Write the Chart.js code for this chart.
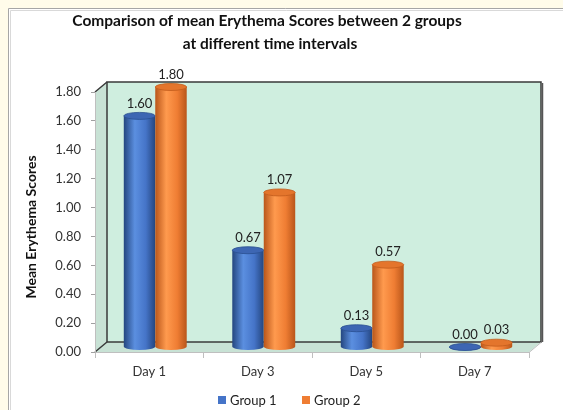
<!DOCTYPE html>
<html><head><meta charset="utf-8">
<script src="https://cdn.jsdelivr.net/npm/chart.js@4/dist/chart.umd.min.js"></script>
<style>html,body{margin:0;padding:0;background:#fffcea;overflow:hidden}canvas{display:block}</style>
</head><body><canvas id="c" width="563" height="410"></canvas>
<script>
const categories = ['Day 1', 'Day 3', 'Day 5', 'Day 7'];
const group1 = [1.60, 0.67, 0.13, 0.00];
const group2 = [1.80, 1.07, 0.57, 0.03];
const seriesNames = ['Group 1', 'Group 2'];
const titleLines = ['Comparison of mean Erythema Scores between 2 groups', 'at different time intervals'];
const yTitle = 'Mean Erythema Scores';
const yMin = 0, yMax = 1.8, yStep = 0.2;

const FONT = 'Lato, "Open Sans", sans-serif';
const DX = 12, DY = -10;
const palette = [
  {d:'#24467f', l:'#5b8fe0', m:'#4574c8', cap:'#3d66b3', rim:'#2a4f90'},
  {d:'#b9561a', l:'#ff9a4e', m:'#ef7d33', cap:'#e4752c', rim:'#c25c1c'}
];

function cyl(ctx, cx, top, bottom, w, c){
  const rx = w/2, ry = 3.5, x0 = cx - rx;
  const g = ctx.createLinearGradient(x0, 0, x0 + w, 0);
  g.addColorStop(0, c.d); g.addColorStop(0.35, c.l); g.addColorStop(0.7, c.m); g.addColorStop(1, c.d);
  ctx.beginPath();
  ctx.moveTo(x0, top);
  ctx.lineTo(x0, bottom);
  ctx.ellipse(cx, bottom, rx, ry, 0, Math.PI, 0, true);
  ctx.lineTo(x0 + w, top);
  ctx.closePath();
  ctx.fillStyle = g; ctx.fill();
  ctx.beginPath(); ctx.ellipse(cx, top, rx, ry, 0, 0, 2*Math.PI);
  ctx.fillStyle = c.cap; ctx.fill();
  ctx.lineWidth = 0.8; ctx.strokeStyle = c.rim; ctx.stroke();
}

const scene = {
  id: 'scene',
  beforeDraw(chart){
    const ctx = chart.ctx;
    ctx.save();
    ctx.fillStyle = '#fffcea'; ctx.fillRect(0, 0, 563, 410);
    ctx.fillStyle = '#ffffff'; ctx.fillRect(8, 8, 555, 402);
    ctx.strokeStyle = '#a6a6a6'; ctx.lineWidth = 1;
    ctx.beginPath(); ctx.moveTo(8.5, 410); ctx.lineTo(8.5, 8.5); ctx.lineTo(563, 8.5); ctx.stroke();
    ctx.strokeStyle = '#d9d9d9';
    ctx.beginPath(); ctx.moveTo(10.5, 410); ctx.lineTo(10.5, 10.5); ctx.lineTo(563, 10.5); ctx.stroke();
    // title
    ctx.fillStyle = '#111'; ctx.textAlign = 'center'; ctx.textBaseline = 'middle';
    ctx.font = 'bold 15.5px ' + FONT;
    ctx.fillText(titleLines[0], 267, 21);
    ctx.fillText(titleLines[1], 270, 44);
    // y title
    ctx.save(); ctx.translate(31, 227); ctx.rotate(-Math.PI/2);
    ctx.font = 'bold 14px ' + FONT; ctx.fillText(yTitle, 0, 0); ctx.restore();
    ctx.restore();
  },
  beforeDatasetsDraw(chart){
    const ctx = chart.ctx, a = chart.chartArea;
    const L = a.left, R = a.right, T = a.top, B = a.bottom;
    ctx.save();
    ctx.fillStyle = '#c8e2d5';
    ctx.beginPath(); ctx.moveTo(L, T); ctx.lineTo(L+DX, T+DY); ctx.lineTo(L+DX, B+DY); ctx.lineTo(L, B); ctx.closePath(); ctx.fill();
    ctx.beginPath(); ctx.moveTo(L, B); ctx.lineTo(L+DX, B+DY); ctx.lineTo(R+DX, B+DY); ctx.lineTo(R, B); ctx.closePath(); ctx.fill();
    ctx.fillStyle = '#cfeedf';
    ctx.fillRect(L+DX, T+DY, R-L, B-T);
    ctx.strokeStyle = '#3a3a3a'; ctx.lineWidth = 1.5;
    ctx.strokeRect(L+DX, T+DY, R-L, B-T);
    ctx.beginPath(); ctx.moveTo(L, T); ctx.lineTo(L+DX, T+DY); ctx.moveTo(L, B); ctx.lineTo(L+DX, B+DY); ctx.stroke();
    ctx.strokeStyle = '#555'; ctx.lineWidth = 1.5;
    ctx.beginPath(); ctx.moveTo(R+DX+1.5, T+DY+1); ctx.lineTo(R+DX+1.5, B+DY); ctx.stroke();
    ctx.strokeStyle = '#bfbfbf'; ctx.lineWidth = 1;
    ctx.beginPath(); ctx.moveTo(L+0.5, T); ctx.lineTo(L+0.5, B+0.5); ctx.lineTo(R, B+0.5); ctx.lineTo(R+DX, B+DY+0.5); ctx.stroke();
    ctx.restore();
  },
  afterDatasetsDraw(chart){
    const ctx = chart.ctx;
    ctx.save();
    const n = chart.data.labels.length;
    for (let i = 0; i < n; i++){
      chart.data.datasets.forEach((ds, di) => {
        const el = chart.getDatasetMeta(di).data[i];
        cyl(ctx, el.x + DX/2, el.y + DY/2, el.base + DY/2, el.width, palette[di]);
      });
    }
    ctx.font = '13px ' + FONT; ctx.fillStyle = '#222'; ctx.textAlign = 'center'; ctx.textBaseline = 'bottom';
    chart.data.datasets.forEach((ds, di) => {
      chart.getDatasetMeta(di).data.forEach((el, i) => {
        ctx.fillText(ds.data[i].toFixed(2), el.x + DX/2, el.y + DY/2 - 6);
      });
    });
    ctx.textAlign = 'left'; ctx.textBaseline = 'middle';
    const lx = [218, 302];
    chart.data.datasets.forEach((ds, di) => {
      ctx.fillStyle = palette[di].m; ctx.fillRect(lx[di], 396, 8, 8);
      ctx.fillStyle = '#222'; ctx.fillText(ds.label, lx[di] + 12, 400.5);
    });
    ctx.restore();
  }
};

new Chart(document.getElementById('c'), {
  type: 'bar',
  data: {
    labels: categories,
    datasets: [
      {label: seriesNames[0], data: group1, backgroundColor: 'rgba(0,0,0,0)', borderWidth: 0},
      {label: seriesNames[1], data: group2, backgroundColor: 'rgba(0,0,0,0)', borderWidth: 0}
    ]
  },
  options: {
    responsive: false, animation: false, devicePixelRatio: 1,
    categoryPercentage: 0.58, barPercentage: 1,
    layout: {padding: {top: 92, right: 34, left: 0, bottom: 0}},
    plugins: {legend: {display: false}, tooltip: {enabled: false}, title: {display: false}},
    scales: {
      x: {
        grid: {display: true, drawOnChartArea: false, tickLength: 6, color: '#bfbfbf', offset: true},
        border: {display: false},
        ticks: {font: {family: FONT, size: 13}, color: '#333', padding: 6},
        afterFit(s){ s.height = 58; }
      },
      y: {
        min: yMin, max: yMax,
        grid: {display: true, drawOnChartArea: false, tickLength: 4, color: '#a0a0a0'},
        border: {display: false},
        ticks: {stepSize: yStep, font: {family: FONT, size: 13}, color: '#333', padding: 10,
                callback: v => Number(v).toFixed(2)},
        afterFit(s){ s.width = 95; }
      }
    }
  },
  plugins: [scene]
});
</script>
</body></html>
